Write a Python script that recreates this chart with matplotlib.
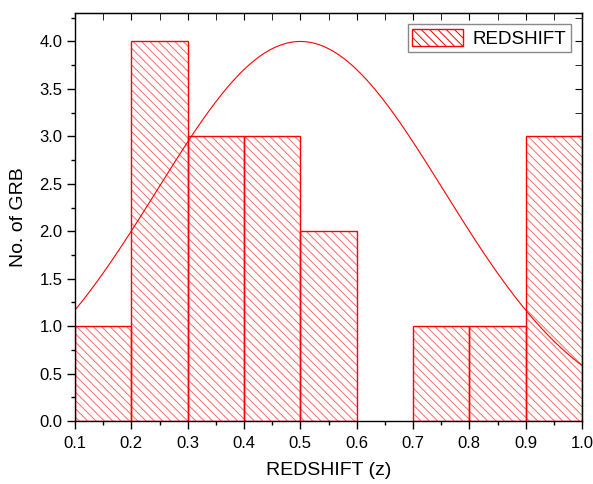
import numpy as np
import matplotlib.pyplot as plt
import matplotlib as mpl
from matplotlib.patches import Patch

plt.rcParams['font.family'] = ['Liberation Sans', 'DejaVu Sans']
mpl.rcParams['hatch.linewidth'] = 0.7

bin_edges = [0.1, 0.2, 0.3, 0.4, 0.5, 0.6, 0.7, 0.8, 0.9, 1.0]
counts = [1, 4, 3, 3, 2, 0, 1, 1, 3]

# gaussian fit parameters
amp, mu, sigma = 4.0, 0.5, 0.255

fig = plt.figure(figsize=(5.93, 4.84), dpi=100)
ax = fig.add_axes([75 / 593, 63 / 484, 507 / 593, 408 / 484])

left = np.array(bin_edges[:-1])
width = np.diff(bin_edges)
keep = np.array(counts) > 0
# hatch in lighter red, outline in full red
ax.bar(left[keep], np.array(counts)[keep], width=width[keep], align='edge',
       facecolor='white', edgecolor='#ff6a6a', hatch='\\\\\\\\', linewidth=0)
ax.bar(left[keep], np.array(counts)[keep], width=width[keep], align='edge',
       fill=False, edgecolor='#ff0000', linewidth=1.0)

xs = np.linspace(0.1, 1.0, 400)
ax.plot(xs, amp * np.exp(-(xs - mu) ** 2 / (2 * sigma ** 2)), color='#ff0000', lw=0.8)

ax.set_xlim(0.1, 1.0)
ax.set_ylim(0, 4.3)
ax.set_xticks(bin_edges)
ax.set_xticklabels([f'{v:.1f}' for v in bin_edges])
ax.set_yticks(np.arange(0, 4.01, 0.5))
ax.set_yticklabels([f'{v:.1f}' for v in np.arange(0, 4.01, 0.5)])
ax.xaxis.set_minor_locator(mpl.ticker.MultipleLocator(0.05))
ax.yaxis.set_minor_locator(mpl.ticker.MultipleLocator(0.25))
ax.tick_params(which='both', direction='out', labelsize=12, width=1.0)
ax.tick_params(which='major', length=6)
ax.tick_params(which='minor', length=3)
ax.tick_params(axis='x', pad=5)
ax.tick_params(axis='y', pad=3)

for s in ax.spines.values():
    s.set_linewidth(1.0)

# mirrored ticks pointing inward on top and right
top = ax.secondary_xaxis('top')
top.set_xticks(bin_edges)
top.xaxis.set_minor_locator(mpl.ticker.MultipleLocator(0.05))
top.tick_params(which='both', direction='in', length=5, labeltop=False)
right = ax.secondary_yaxis('right')
right.set_yticks(np.arange(0, 4.01, 0.5))
right.yaxis.set_minor_locator(mpl.ticker.MultipleLocator(0.25))
right.tick_params(which='both', direction='in', length=5, labelright=False)

ax.set_xlabel('REDSHIFT (z)', fontsize=14, labelpad=8)
ax.set_ylabel('No. of GRB', fontsize=14, labelpad=9)

handle = Patch(facecolor='white', edgecolor='#ff0000', hatch='\\\\\\\\', linewidth=1.0)
leg = ax.legend([handle], ['REDSHIFT'], loc='upper right', fontsize=13.5, fancybox=False,
                framealpha=1, edgecolor='#888888', borderaxespad=0.6, handlelength=2.7,
                handleheight=1.0, borderpad=0.25, handletextpad=0.5)
leg.get_frame().set_linewidth(1.0)

fig.savefig('out.png', dpi=100)
